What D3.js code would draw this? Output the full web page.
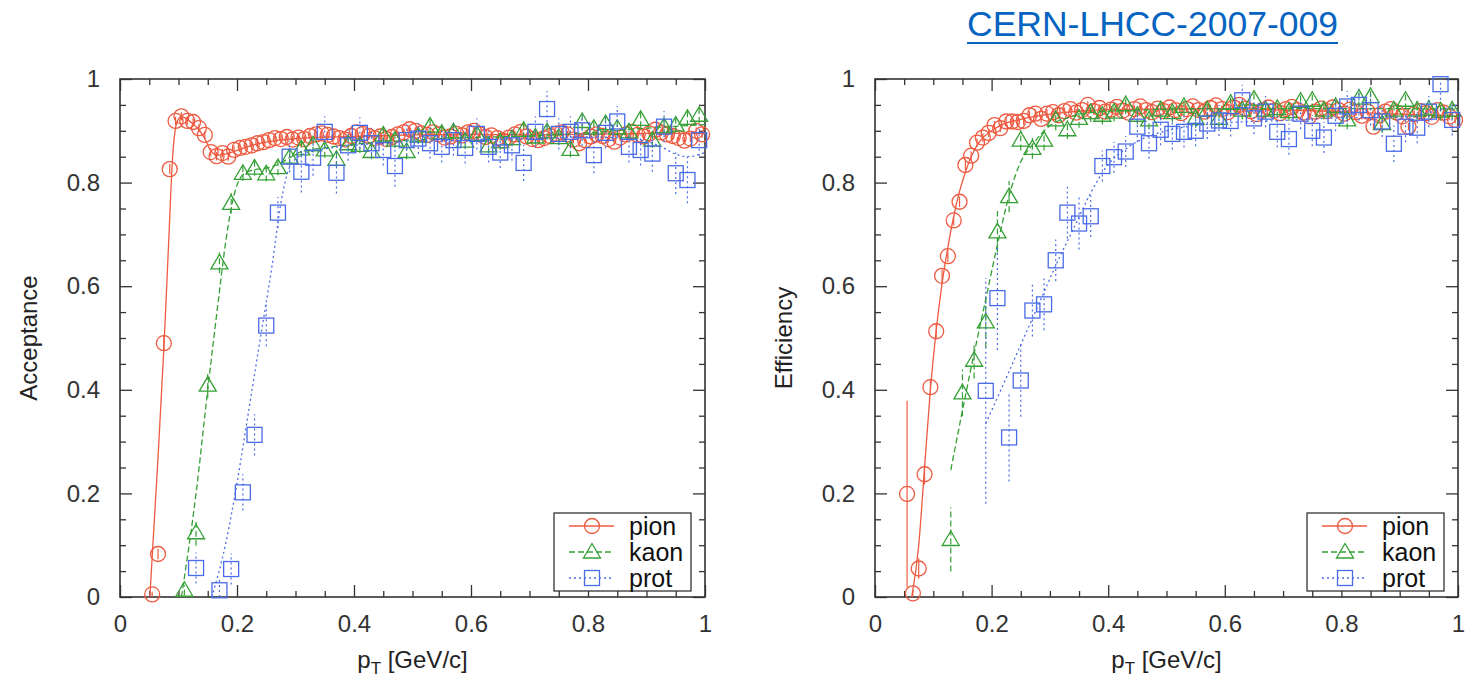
<!DOCTYPE html>
<html>
<head>
<meta charset="utf-8">
<script src="https://cdn.jsdelivr.net/npm/d3@7"></script>
<style>
  body { margin: 0; background: #fff; }
  svg text { font-family: "Liberation Sans", Arial, Helvetica, sans-serif; }
</style>
</head>
<body>
<svg id="chart" width="1466" height="677"></svg>
<script>
// ---- data: [pT, value, error] ----
const majorTicks = [0, 0.2, 0.4, 0.6, 0.8, 1];
const minorTicks = [0.05, 0.1, 0.15, 0.25, 0.3, 0.35, 0.45, 0.5, 0.55, 0.65, 0.7, 0.75, 0.85, 0.9, 0.95];
const seriesNames = ['pion', 'kaon', 'prot'];

// Acceptance (left panel)
const accPion = [
  [0.055,0.005,0.005],[0.065,0.083,0.01],[0.075,0.49,0.015],[0.085,0.826,0.01],[0.095,0.919,0.008],
  [0.105,0.928,0.008],[0.115,0.919,0.008],[0.125,0.917,0.008],[0.135,0.905,0.008],[0.145,0.892,0.008],
  [0.155,0.859,0.008],[0.165,0.851,0.008],[0.175,0.857,0.008],[0.185,0.85,0.008],[0.195,0.863,0.008],
  [0.205,0.867,0.008],[0.215,0.869,0.008],[0.225,0.872,0.008],[0.235,0.876,0.008],[0.245,0.878,0.007],
  [0.255,0.882,0.007],[0.265,0.886,0.007],[0.275,0.884,0.007],[0.285,0.888,0.007],[0.295,0.883,0.007],
  [0.305,0.887,0.007],[0.315,0.884,0.007],[0.325,0.89,0.007],[0.335,0.893,0.007],[0.345,0.895,0.007],
  [0.355,0.892,0.007],[0.365,0.889,0.007],[0.375,0.886,0.007],[0.385,0.883,0.007],[0.395,0.89,0.007],
  [0.405,0.897,0.007],[0.415,0.894,0.007],[0.425,0.89,0.007],[0.435,0.886,0.007],[0.445,0.889,0.007],
  [0.455,0.884,0.007],[0.465,0.888,0.007],[0.475,0.893,0.007],[0.485,0.897,0.007],[0.495,0.903,0.007],
  [0.505,0.9,0.007],[0.515,0.895,0.007],[0.525,0.892,0.007],[0.535,0.897,0.007],[0.545,0.893,0.007],
  [0.555,0.887,0.007],[0.565,0.889,0.007],[0.575,0.894,0.007],[0.585,0.891,0.007],[0.595,0.897,0.007],
  [0.605,0.9,0.007],[0.615,0.893,0.007],[0.625,0.888,0.007],[0.635,0.891,0.007],[0.645,0.886,0.007],
  [0.655,0.881,0.007],[0.665,0.887,0.007],[0.675,0.893,0.007],[0.685,0.898,0.007],[0.695,0.889,0.007],
  [0.705,0.884,0.007],[0.715,0.882,0.007],[0.725,0.886,0.007],[0.735,0.89,0.007],[0.745,0.894,0.007],
  [0.755,0.897,0.007],[0.765,0.893,0.007],[0.775,0.883,0.007],[0.785,0.876,0.007],[0.795,0.882,0.007],
  [0.805,0.889,0.007],[0.815,0.893,0.007],[0.825,0.89,0.007],[0.835,0.884,0.007],[0.845,0.879,0.007],
  [0.855,0.887,0.007],[0.865,0.893,0.007],[0.875,0.898,0.007],[0.885,0.892,0.007],[0.895,0.889,0.007],
  [0.905,0.895,0.007],[0.915,0.902,0.007],[0.925,0.897,0.007],[0.935,0.893,0.007],[0.945,0.89,0.007],
  [0.955,0.886,0.007],[0.965,0.881,0.007],[0.975,0.885,0.007],[0.985,0.9,0.007],[0.995,0.893,0.007]
];
const accKaon = [
  [0.11,0.013,0.01],[0.13,0.124,0.025],[0.15,0.409,0.025],[0.17,0.645,0.02],[0.19,0.76,0.02],
  [0.21,0.818,0.015],[0.23,0.828,0.015],[0.25,0.817,0.015],[0.27,0.829,0.015],[0.29,0.849,0.015],
  [0.31,0.865,0.015],[0.33,0.873,0.015],[0.35,0.863,0.015],[0.37,0.845,0.015],[0.39,0.875,0.015],
  [0.41,0.872,0.015],[0.43,0.86,0.015],[0.45,0.892,0.015],[0.47,0.882,0.015],[0.49,0.86,0.015],
  [0.51,0.89,0.015],[0.53,0.909,0.015],[0.55,0.895,0.015],[0.57,0.898,0.015],[0.59,0.88,0.015],
  [0.61,0.893,0.015],[0.63,0.871,0.015],[0.65,0.879,0.015],[0.67,0.885,0.015],[0.69,0.901,0.015],
  [0.71,0.888,0.015],[0.73,0.898,0.015],[0.75,0.887,0.015],[0.77,0.864,0.015],[0.79,0.918,0.015],
  [0.81,0.905,0.015],[0.83,0.914,0.015],[0.85,0.905,0.015],[0.87,0.898,0.015],[0.89,0.922,0.015],
  [0.91,0.882,0.015],[0.93,0.908,0.015],[0.95,0.911,0.015],[0.97,0.924,0.015],[0.99,0.93,0.015]
];
const accProt = [
  [0.13,0.056,0.03],[0.17,0.013,0.02],[0.19,0.054,0.03],[0.21,0.202,0.035],[0.23,0.313,0.04],
  [0.25,0.524,0.04],[0.27,0.742,0.03],[0.29,0.85,0.03],[0.31,0.821,0.04],[0.33,0.848,0.035],
  [0.35,0.898,0.03],[0.37,0.819,0.04],[0.39,0.872,0.03],[0.41,0.896,0.03],[0.43,0.876,0.03],
  [0.45,0.863,0.03],[0.47,0.832,0.04],[0.49,0.882,0.03],[0.51,0.885,0.03],[0.53,0.876,0.03],
  [0.55,0.869,0.03],[0.57,0.882,0.03],[0.59,0.867,0.03],[0.61,0.894,0.03],[0.63,0.869,0.03],
  [0.65,0.858,0.03],[0.67,0.872,0.03],[0.69,0.838,0.035],[0.71,0.898,0.03],[0.73,0.942,0.035],
  [0.75,0.894,0.03],[0.77,0.898,0.03],[0.79,0.901,0.03],[0.81,0.853,0.035],[0.83,0.896,0.03],
  [0.85,0.918,0.03],[0.87,0.869,0.03],[0.89,0.863,0.03],[0.91,0.856,0.035],[0.93,0.908,0.03],
  [0.95,0.818,0.04],[0.97,0.805,0.045],[0.99,0.882,0.03]
];
// smooth curves drawn through the acceptance points
const accPionCurve = [[0.051,0],[0.064,0.25],[0.075,0.48],[0.083,0.68],[0.09,0.85],[0.097,0.915],[0.105,0.928],
  [0.115,0.922],[0.125,0.913],[0.135,0.902],[0.145,0.885],[0.155,0.862],[0.165,0.853],[0.18,0.855],[0.2,0.862],
  [0.22,0.87],[0.25,0.878],[0.3,0.885],[0.4,0.889],[0.5,0.892],[0.6,0.893],[0.7,0.892],[0.8,0.893],[0.9,0.895],[1.0,0.895]];
const accKaonCurve = [[0.105,0],[0.13,0.2],[0.15,0.4],[0.17,0.59],[0.18,0.68],[0.19,0.75],[0.2,0.795],[0.21,0.815],
  [0.23,0.825],[0.25,0.828],[0.27,0.835],[0.29,0.848],[0.31,0.86],[0.35,0.867],[0.4,0.874],[0.5,0.882],
  [0.6,0.887],[0.7,0.89],[0.8,0.896],[0.9,0.905],[1.0,0.912]];
const accProtCurve = [[0.157,0],[0.18,0.1],[0.2,0.22],[0.22,0.36],[0.24,0.5],[0.26,0.64],[0.275,0.76],[0.29,0.83],
  [0.31,0.853],[0.35,0.865],[0.4,0.872],[0.5,0.879],[0.6,0.882],[0.7,0.885],[0.8,0.888],[0.88,0.884],
  [0.92,0.872],[0.95,0.855],[0.97,0.85],[1.0,0.858]];

// Efficiency (right panel)
const effPion = [
  [0.055,0.199,0.18],[0.065,0.007,0.007],[0.075,0.055,0.02],[0.085,0.237,0.02],[0.095,0.405,0.015],
  [0.105,0.513,0.015],[0.115,0.62,0.012],[0.125,0.658,0.012],[0.135,0.727,0.01],[0.145,0.763,0.01],
  [0.155,0.834,0.01],[0.165,0.852,0.008],[0.175,0.877,0.008],[0.185,0.887,0.008],[0.195,0.896,0.008],
  [0.205,0.911,0.008],[0.215,0.905,0.008],[0.225,0.918,0.008],[0.235,0.918,0.008],[0.245,0.917,0.008],
  [0.255,0.919,0.008],[0.265,0.93,0.008],[0.275,0.933,0.008],[0.285,0.923,0.008],[0.295,0.933,0.008],
  [0.305,0.936,0.007],[0.315,0.93,0.007],[0.325,0.938,0.007],[0.335,0.942,0.007],[0.345,0.935,0.007],
  [0.355,0.94,0.007],[0.365,0.95,0.007],[0.375,0.938,0.007],[0.385,0.944,0.007],[0.395,0.937,0.007],
  [0.405,0.941,0.007],[0.415,0.946,0.007],[0.425,0.939,0.007],[0.435,0.935,0.007],[0.445,0.942,0.007],
  [0.455,0.947,0.007],[0.465,0.94,0.007],[0.475,0.936,0.007],[0.485,0.943,0.007],[0.495,0.938,0.007],
  [0.505,0.945,0.007],[0.515,0.94,0.007],[0.525,0.934,0.007],[0.535,0.942,0.007],[0.545,0.947,0.007],
  [0.555,0.94,0.007],[0.565,0.937,0.007],[0.575,0.944,0.007],[0.585,0.949,0.007],[0.595,0.942,0.007],
  [0.605,0.936,0.007],[0.615,0.945,0.007],[0.625,0.95,0.007],[0.635,0.943,0.007],[0.645,0.938,0.007],
  [0.655,0.932,0.007],[0.665,0.94,0.007],[0.675,0.945,0.007],[0.685,0.939,0.007],[0.695,0.934,0.007],
  [0.705,0.942,0.007],[0.715,0.946,0.007],[0.725,0.94,0.007],[0.735,0.935,0.007],[0.745,0.928,0.007],
  [0.755,0.937,0.007],[0.765,0.943,0.007],[0.775,0.938,0.007],[0.785,0.945,0.007],[0.795,0.94,0.007],
  [0.805,0.933,0.007],[0.815,0.941,0.007],[0.825,0.936,0.007],[0.835,0.929,0.007],[0.845,0.937,0.007],
  [0.855,0.908,0.007],[0.865,0.93,0.007],[0.875,0.937,0.007],[0.885,0.942,0.007],[0.895,0.935,0.007],
  [0.905,0.928,0.007],[0.915,0.908,0.007],[0.925,0.932,0.007],[0.935,0.938,0.007],[0.945,0.934,0.007],
  [0.955,0.927,0.007],[0.965,0.94,0.007],[0.975,0.935,0.007],[0.985,0.928,0.007],[0.995,0.921,0.007]
];
const effKaon = [
  [0.13,0.111,0.062],[0.15,0.394,0.045],[0.17,0.457,0.035],[0.19,0.531,0.05],[0.21,0.705,0.04],
  [0.23,0.773,0.03],[0.25,0.882,0.02],[0.27,0.866,0.02],[0.29,0.882,0.02],[0.31,0.921,0.02],
  [0.33,0.902,0.018],[0.35,0.924,0.018],[0.37,0.935,0.018],[0.39,0.93,0.018],[0.41,0.936,0.018],
  [0.43,0.95,0.018],[0.45,0.93,0.018],[0.47,0.921,0.018],[0.49,0.94,0.018],[0.51,0.935,0.018],
  [0.53,0.947,0.018],[0.55,0.924,0.018],[0.57,0.94,0.018],[0.59,0.924,0.018],[0.61,0.953,0.018],
  [0.63,0.94,0.018],[0.65,0.961,0.018],[0.67,0.94,0.018],[0.69,0.943,0.018],[0.71,0.937,0.018],
  [0.73,0.957,0.018],[0.75,0.959,0.018],[0.77,0.94,0.018],[0.79,0.947,0.018],[0.81,0.921,0.018],
  [0.83,0.963,0.018],[0.85,0.966,0.018],[0.87,0.914,0.018],[0.89,0.94,0.018],[0.91,0.959,0.018],
  [0.93,0.94,0.018],[0.95,0.942,0.018],[0.97,0.938,0.018],[0.99,0.94,0.018]
];
const effProt = [
  [0.19,0.398,0.218],[0.21,0.577,0.1],[0.23,0.308,0.085],[0.25,0.418,0.07],[0.27,0.553,0.05],
  [0.29,0.565,0.05],[0.31,0.65,0.04],[0.33,0.742,0.05],[0.35,0.721,0.05],[0.37,0.735,0.04],
  [0.39,0.832,0.03],[0.41,0.849,0.03],[0.43,0.86,0.03],[0.45,0.908,0.03],[0.47,0.876,0.03],
  [0.49,0.902,0.03],[0.51,0.894,0.03],[0.53,0.898,0.03],[0.55,0.9,0.03],[0.57,0.914,0.03],
  [0.59,0.92,0.03],[0.61,0.919,0.03],[0.63,0.959,0.03],[0.65,0.924,0.03],[0.67,0.937,0.03],
  [0.69,0.898,0.03],[0.71,0.884,0.03],[0.73,0.933,0.03],[0.75,0.9,0.03],[0.77,0.887,0.03],
  [0.79,0.929,0.03],[0.81,0.947,0.03],[0.83,0.95,0.03],[0.85,0.94,0.03],[0.87,0.918,0.03],
  [0.89,0.875,0.035],[0.91,0.908,0.03],[0.93,0.906,0.03],[0.95,0.937,0.03],[0.97,0.99,0.03],
  [0.99,0.921,0.03]
];
const effPionCurve = [[0.063,0],[0.075,0.1],[0.085,0.25],[0.095,0.4],[0.105,0.515],[0.115,0.605],[0.125,0.675],
  [0.135,0.735],[0.145,0.783],[0.155,0.82],[0.165,0.85],[0.18,0.88],[0.2,0.9],[0.22,0.913],[0.25,0.922],
  [0.3,0.932],[0.35,0.938],[0.4,0.941],[0.5,0.942],[0.6,0.943],[0.7,0.94],[0.8,0.937],[0.9,0.932],[1.0,0.928]];
const effKaonCurve = [[0.13,0.245],[0.15,0.36],[0.17,0.47],[0.19,0.575],[0.21,0.68],[0.23,0.775],[0.25,0.84],
  [0.27,0.873],[0.3,0.91],[0.33,0.925],[0.37,0.935],[0.45,0.94],[0.6,0.943],[0.8,0.943],[1.0,0.942]];
const effProtCurve = [[0.19,0.335],[0.22,0.41],[0.25,0.487],[0.28,0.563],[0.31,0.64],[0.34,0.71],[0.37,0.78],
  [0.4,0.835],[0.43,0.865],[0.46,0.885],[0.5,0.9],[0.6,0.915],[0.7,0.92],[0.8,0.925],[0.9,0.926],
  [0.95,0.935],[1.0,0.95]];

// ---- drawing ----
const svg = d3.select('#chart');
const colors = { pion: '#ee5a40', kaon: '#35a035', prot: '#4a6be6' };
const dashes = { pion: null, kaon: '6 3', prot: '2 3' };
const plotTop = 79, plotBottom = 597;

function markerShape(sel, name) {
  if (name === 'pion') {
    sel.append('circle').attr('r', 7.5);
  } else if (name === 'kaon') {
    sel.append('path').attr('d', 'M0,-8.5L8.5,6L-8.5,6Z');
  } else {
    sel.append('rect').attr('x', -7.5).attr('y', -7.5).attr('width', 15).attr('height', 15);
  }
}

function drawPanel(id, left, right, yTitle, points, curves) {
  const x = d3.scaleLinear().domain([0, 1]).range([left, right]);
  const y = d3.scaleLinear().domain([0, 1]).range([plotBottom, plotTop]);
  const g = svg.append('g').attr('class', 'panel-' + id);

  g.append('clipPath').attr('id', 'clip-' + id)
    .append('rect')
    .attr('x', left).attr('y', plotTop)
    .attr('width', right - left).attr('height', plotBottom - plotTop);

  // axes: inside ticks on all four sides
  function styleAxis(a) {
    a.attr('color', '#333').attr('font-size', 24)
      .attr('font-family', '"Liberation Sans", Arial, Helvetica, sans-serif');
    a.select('.domain').remove();
    a.selectAll('line').attr('stroke-width', 1.3);
  }
  g.append('g').attr('transform', `translate(0,${plotBottom})`)
    .call(d3.axisBottom(x).tickValues(majorTicks).tickSize(-12).tickPadding(18).tickFormat(d3.format('~g')))
    .call(styleAxis);
  g.append('g').attr('transform', `translate(0,${plotBottom})`)
    .call(d3.axisBottom(x).tickValues(minorTicks).tickSize(-6).tickFormat(''))
    .call(styleAxis);
  g.append('g').attr('transform', `translate(0,${plotTop})`)
    .call(d3.axisTop(x).tickValues(majorTicks).tickSize(-12).tickFormat(''))
    .call(styleAxis);
  g.append('g').attr('transform', `translate(0,${plotTop})`)
    .call(d3.axisTop(x).tickValues(minorTicks).tickSize(-6).tickFormat(''))
    .call(styleAxis);
  g.append('g').attr('transform', `translate(${left},0)`)
    .call(d3.axisLeft(y).tickValues(majorTicks).tickSize(-12).tickPadding(20).tickFormat(d3.format('~g')))
    .call(styleAxis);
  g.append('g').attr('transform', `translate(${left},0)`)
    .call(d3.axisLeft(y).tickValues(minorTicks).tickSize(-6).tickFormat(''))
    .call(styleAxis);
  g.append('g').attr('transform', `translate(${right},0)`)
    .call(d3.axisRight(y).tickValues(majorTicks).tickSize(-12).tickFormat(''))
    .call(styleAxis);
  g.append('g').attr('transform', `translate(${right},0)`)
    .call(d3.axisRight(y).tickValues(minorTicks).tickSize(-6).tickFormat(''))
    .call(styleAxis);

  g.append('rect')
    .attr('x', left).attr('y', plotTop)
    .attr('width', right - left).attr('height', plotBottom - plotTop)
    .attr('fill', 'none').attr('stroke', '#333').attr('stroke-width', 1.6);

  // axis titles
  const xt = g.append('text')
    .attr('x', (left + right) / 2).attr('y', 668)
    .attr('text-anchor', 'middle').attr('font-size', 24).attr('fill', '#222');
  xt.append('tspan').text('p');
  xt.append('tspan').attr('font-size', 17).attr('dy', 6).text('T');
  xt.append('tspan').attr('dy', -6).text(' [GeV/c]');

  g.append('text')
    .attr('transform', `translate(${left - 83},${(plotTop + plotBottom) / 2}) rotate(-90)`)
    .attr('text-anchor', 'middle').attr('font-size', 24).attr('fill', '#222')
    .text(yTitle);

  const line = d3.line().x(d => x(d[0])).y(d => y(d[1])).curve(d3.curveMonotoneX);

  seriesNames.forEach(name => {
    const data = points[name];
    const s = g.append('g').attr('class', 'series ' + name);

    s.append('path')
      .datum(curves[name])
      .attr('clip-path', `url(#clip-${id})`)
      .attr('d', line)
      .attr('fill', 'none')
      .attr('stroke', colors[name])
      .attr('stroke-width', 1.3)
      .attr('stroke-dasharray', dashes[name]);

    s.append('g').attr('clip-path', `url(#clip-${id})`)
      .selectAll('line')
      .data(data)
      .join('line')
      .attr('x1', d => x(d[0])).attr('x2', d => x(d[0]))
      .attr('y1', d => y(Math.max(0, d[1] - d[2])))
      .attr('y2', d => y(Math.min(1.05, d[1] + d[2])))
      .attr('stroke', colors[name])
      .attr('stroke-width', 1.2)
      .attr('stroke-dasharray', dashes[name]);

    s.append('g')
      .selectAll('g')
      .data(data)
      .join('g')
      .attr('transform', d => `translate(${x(d[0])},${y(d[1])})`)
      .each(function () { markerShape(d3.select(this), name); })
      .selectAll('*')
      .attr('fill', 'none')
      .attr('stroke', colors[name])
      .attr('stroke-width', 1.3);
  });

  // legend
  const boxRight = right - 14;
  const boxLeft = boxRight - 137;
  const lg = g.append('g').attr('class', 'legend');
  lg.append('rect')
    .attr('x', boxLeft).attr('y', 513)
    .attr('width', 137).attr('height', 78)
    .attr('fill', '#fff').attr('stroke', '#333').attr('stroke-width', 1.3);
  seriesNames.forEach((name, i) => {
    const ly = 526 + i * 26;
    lg.append('line')
      .attr('x1', boxLeft + 15).attr('x2', boxLeft + 60)
      .attr('y1', ly).attr('y2', ly)
      .attr('stroke', colors[name]).attr('stroke-width', 1.3)
      .attr('stroke-dasharray', dashes[name]);
    const m = lg.append('g').attr('transform', `translate(${boxLeft + 38},${ly})`);
    markerShape(m, name);
    m.selectAll('*').attr('fill', 'none').attr('stroke', colors[name]).attr('stroke-width', 1.3);
    lg.append('text')
      .attr('x', boxLeft + 75).attr('y', ly + 9)
      .attr('font-size', 25).attr('fill', '#111')
      .text(name);
  });
}

drawPanel('acc', 120, 705, 'Acceptance',
  { pion: accPion, kaon: accKaon, prot: accProt },
  { pion: accPionCurve, kaon: accKaonCurve, prot: accProtCurve });
drawPanel('eff', 875, 1458, 'Efficiency',
  { pion: effPion, kaon: effKaon, prot: effProt },
  { pion: effPionCurve, kaon: effKaonCurve, prot: effProtCurve });

// reference link above the right panel
svg.append('text')
  .attr('x', 967).attr('y', 36)
  .attr('font-family', '"Open Sans", "Noto Sans", sans-serif')
  .attr('font-size', 35)
  .attr('textLength', 371).attr('lengthAdjust', 'spacingAndGlyphs')
  .attr('fill', '#0563c1')
  .text('CERN-LHCC-2007-009');
svg.append('line')
  .attr('x1', 967).attr('x2', 1338)
  .attr('y1', 43).attr('y2', 43)
  .attr('stroke', '#0563c1').attr('stroke-width', 2);
</script>
</body>
</html>
